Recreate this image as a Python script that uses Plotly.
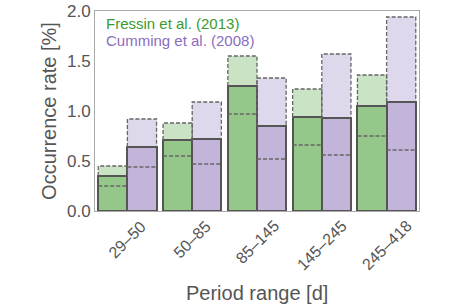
import plotly.graph_objects as go

categories = ["29–50", "50–85", "85–145", "145–245", "245–418"]
fressin_val = [0.35, 0.71, 1.25, 0.94, 1.05]
fressin_up = [0.45, 0.88, 1.55, 1.22, 1.36]
fressin_low = [0.25, 0.55, 0.97, 0.66, 0.75]
cumming_val = [0.64, 0.72, 0.85, 0.93, 1.09]
cumming_up = [0.92, 1.09, 1.33, 1.57, 1.94]
cumming_low = [0.44, 0.47, 0.52, 0.56, 0.61]

W = 0.45
series = [
    ("Fressin et al. (2013)", fressin_val, fressin_up, fressin_low, -W / 2,
     "#96c78a", "#c9e3c4", "#3c9a2e"),
    ("Cumming et al. (2008)", cumming_val, cumming_up, cumming_low, W / 2,
     "#c3b4d9", "#dfd8ec", "#8a6cc0"),
]

fig = go.Figure()
xs_all = list(range(len(categories)))

# light (upper) bars
for name, val, up, low, off, c_solid, c_light, c_text in series:
    fig.add_trace(go.Bar(x=[i + off for i in xs_all], y=up, width=W,
                         marker=dict(color=c_light, line=dict(width=0)),
                         showlegend=False, hoverinfo="skip"))
# solid bars
for name, val, up, low, off, c_solid, c_light, c_text in series:
    fig.add_trace(go.Bar(x=[i + off for i in xs_all], y=val, width=W,
                         marker=dict(color=c_solid, line=dict(width=2, color="#555555")),
                         showlegend=False, name=name))
# dashed outlines and lower lines
for name, val, up, low, off, c_solid, c_light, c_text in series:
    lx, ly = [], []
    for i, (v, u, l) in enumerate(zip(val, up, low)):
        x0, x1 = i + off - W / 2, i + off + W / 2
        lx += [x0, x0, x1, x1, None, x0, x1, None]
        ly += [v, u, u, v, None, l, l, None]
    fig.add_trace(go.Scatter(x=lx, y=ly, mode="lines",
                             line=dict(color="#666666", width=1.3, dash="4px,2px"),
                             showlegend=False, hoverinfo="skip"))

fig.update_layout(
    width=458, height=305,
    margin=dict(l=95, r=39, t=11, b=94, autoexpand=False),
    barmode="overlay", bargap=0,
    plot_bgcolor="white", paper_bgcolor="white",
    font=dict(family="Liberation Sans, Arial, sans-serif", color="#555555"),
    showlegend=False,
)
fig.update_xaxes(range=[-0.5, 4.5], showticklabels=False, showgrid=False, zeroline=False,
                 showline=True, mirror=True, linecolor="#aaaaaa", linewidth=1, ticks="",
                 automargin=False)
fig.update_yaxes(range=[0, 2.0], tickvals=[0, 0.5, 1.0, 1.5, 2.0],
                 ticktext=["0.0", "0.5", "1.0", "1.5", "2.0"],
                 tickfont=dict(size=17), showgrid=False, zeroline=False,
                 showline=True, mirror=True, linecolor="#aaaaaa", linewidth=1, ticks="",
                 automargin=False,
                 title=dict(text="Occurrence rate [%]", font=dict(size=20), standoff=4))

# x axis title
fig.add_annotation(x=0.5, xref="paper", y=-(293 - 211) / 200, yref="paper", yanchor="middle",
                   text="Period range [d]", showarrow=False, font=dict(size=20, color="#555555"))

# rotated category labels
for i, cat in enumerate(categories):
    fig.add_annotation(x=i, xref="x", y=0, yref="paper", text=cat, showarrow=False,
                       textangle=-45, xanchor="center", yanchor="top", yshift=-4,
                       font=dict(size=16, color="#555555"))

# legend-like text
for k, s in enumerate(series):
    fig.add_annotation(x=0.027, xref="paper", y=0.99 - k * 0.087, yref="paper", text=s[0],
                       showarrow=False, xanchor="left", yanchor="top",
                       font=dict(size=15, color=s[7]))

fig.write_html("out.html", config={"displayModeBar": False},
               post_script="document.body.style.margin='0';")
